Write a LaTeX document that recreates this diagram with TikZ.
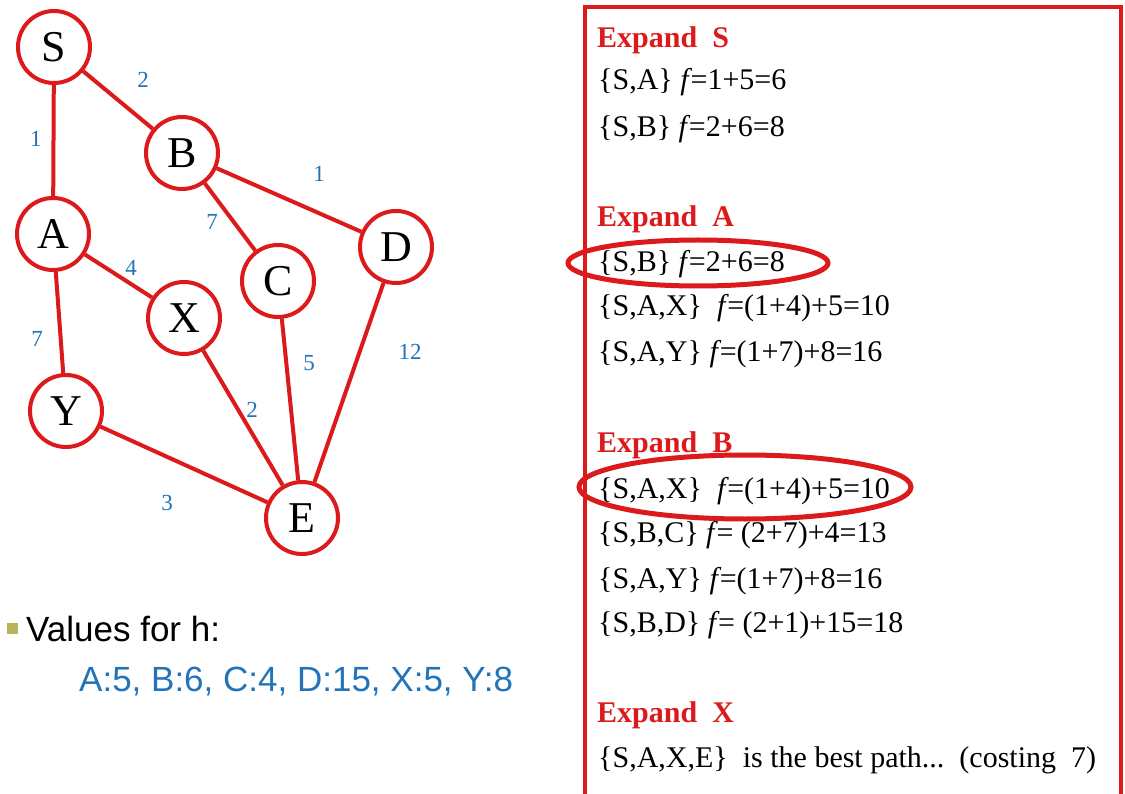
\documentclass[tikz,border=0pt]{standalone}
\usepackage{fontspec}
\setmainfont{Liberation Serif}
\newfontfamily\arialfont{Liberation Sans}
\definecolor{gred}{RGB}{220,26,28}
\definecolor{gblue}{RGB}{35,115,185}
\definecolor{bulletolive}{RGB}{184,180,92}
\newcommand{\fval}{\textit{f}\kern-1.5pt}
\begin{document}
\begin{tikzpicture}[x=1pt,y=-1pt,
  vert/.style={circle, draw=gred, line width=4pt, minimum size=72pt, inner sep=0pt, fill=white,
    font=\fontsize{44}{44}\selectfont},
  edge/.style={draw=gred, line width=4pt},
  wlabel/.style={text=gblue, inner sep=0pt, font=\fontsize{23}{23}\selectfont},
  ptext/.style={anchor=base west, inner sep=0pt, font=\fontsize{30}{30}\selectfont},
  phead/.style={anchor=base west, inner sep=0pt, text=gred, font=\fontsize{30}{30}\selectfont\bfseries},
  hilite/.style={draw=gred, line width=5pt},
  sans/.style={anchor=base west, inner sep=0pt, font=\arialfont\fontsize{35}{35}\selectfont}
]
\useasboundingbox (0,0) rectangle (1125,794);
\fill[white] (0,0) rectangle (1125,794);

% graph
\node[vert] (S) at (54,47) {S};
\node[vert] (B) at (182,153) {B};
\node[vert] (A) at (53,234) {A};
\node[vert] (D) at (396,247) {D};
\node[vert] (C) at (278,281) {C};
\node[vert] (X) at (184,318) {X};
\node[vert] (Y) at (66,411) {Y};
\node[vert] (E) at (302,518) {E};

\draw[edge] (S) -- (A);
\draw[edge] (S) -- (B);
\draw[edge] (B) -- (D);
\draw[edge] (B) -- (C);
\draw[edge] (A) -- (X);
\draw[edge] (A) -- (Y);
\draw[edge] (X) -- (E);
\draw[edge] (C) -- (E);
\draw[edge] (D) -- (E);
\draw[edge] (Y) -- (E);

\node[wlabel] (lSB) at (143,80) {2};
\node[wlabel] (lSA) at (36,139) {1};
\node[wlabel] (lBD) at (319,174) {1};
\node[wlabel] (lBC) at (212,222) {7};
\node[wlabel] (lAX) at (131,268) {4};
\node[wlabel] (lAY) at (37,339) {7};
\node[wlabel] (lDE) at (410,352) {12};
\node[wlabel] (lCE) at (309,363) {5};
\node[wlabel] (lXE) at (252,410) {2};
\node[wlabel] (lYE) at (167,503) {3};

% heuristic values
\fill[bulletolive] (7,623) rectangle (18,634);
\node[sans] (hv) at (26,641) {Values for h:};
\node[sans, text=gblue] (hl) at (79,691) {A:5, B:6, C:4, D:15, X:5, Y:8};

% right panel
\draw[gred, line width=4pt] (585,800) -- (585,7) -- (1121,7) -- (1121,800);

\node[phead] (e1) at (597,48) {Expand\ \ S};
\node[ptext] (t1) at (598,90) {\{S,A\} \fval=1+5=6};
\node[ptext] (t2) at (598,137) {\{S,B\} \fval=2+6=8};

\node[phead] (e2) at (597,227) {Expand\ \ A};
\node[ptext] (t3) at (598,272) {\{S,B\} \fval=2+6=8};
\node[ptext] (t4) at (598,316) {\{S,A,X\}\ \ \fval=(1+4)+5=10};
\node[ptext] (t5) at (598,362) {\{S,A,Y\} \fval=(1+7)+8=16};

\node[phead] (e3) at (597,452) {Expand\ \ B};
\node[ptext] (t6) at (598,498) {\{S,A,X\}\ \ \fval=(1+4)+5=10};
\node[ptext] (t7) at (598,542) {\{S,B,C\} \fval= (2+7)+4=13};
\node[ptext] (t8) at (598,588) {\{S,A,Y\} \fval=(1+7)+8=16};
\node[ptext] (t9) at (598,632) {\{S,B,D\} \fval= (2+1)+15=18};

\node[phead] (e4) at (597,722) {Expand\ \ X};
\node[ptext] (t10) at (598,767) {\{S,A,X,E\}\ \ is the best path...\ \ (costing\ \ 7)};

\draw[hilite] (698,263) ellipse [x radius=130pt, y radius=23pt];
\draw[hilite] (745,487) ellipse [x radius=166pt, y radius=32pt];
\end{tikzpicture}
\end{document}
